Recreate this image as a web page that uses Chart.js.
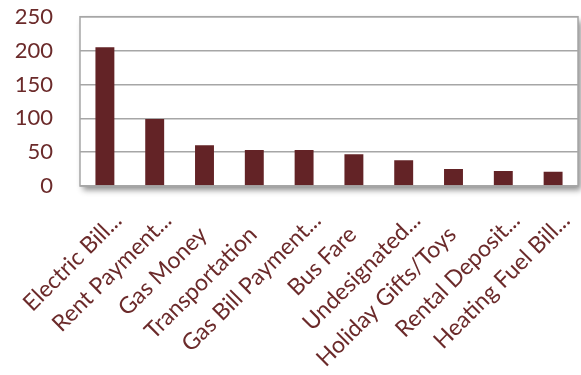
<!DOCTYPE html>
<html>
<head>
<meta charset="utf-8">
<script src="https://cdn.jsdelivr.net/npm/chart.js@4"></script>
<style>
  html, body { margin: 0; padding: 0; background: #fff; }
  #wrap { width: 581px; height: 375px; position: relative; }
</style>
</head>
<body>
<div id="wrap"><canvas id="c" width="581" height="375"></canvas></div>
<script>
// Assistance categories and amounts
const categories = [
  'Electric Bill...', 'Rent Payment...', 'Gas Money', 'Transportation',
  'Gas Bill Payment...', 'Bus Fare', 'Undesignated...', 'Holiday Gifts/Toys',
  'Rental Deposit...', 'Heating Fuel Bill...'
];
const amounts = [205, 99, 60, 53, 53, 47, 38, 25, 22, 21];
const yTicks = [0, 50, 100, 150, 200, 250];

const textColor = '#6b2a2a';
const barColor = '#632326';
const gridColor = '#a6a6a6';
const labelFont = '23px Lato';

// White plot panel with a soft drop shadow and grey frame
const panelShadow = {
  id: 'panelShadow',
  beforeDraw(chart) {
    const { ctx, chartArea: a } = chart;
    ctx.save();
    ctx.shadowColor = 'rgba(0,0,0,0.45)';
    ctx.shadowBlur = 6;
    ctx.shadowOffsetX = 3;
    ctx.shadowOffsetY = 4;
    ctx.fillStyle = '#fff';
    ctx.fillRect(a.left, a.top, a.right - a.left, a.bottom - a.top);
    ctx.restore();
  },
  afterDatasetsDraw(chart) {
    const { ctx, chartArea: a } = chart;
    ctx.save();
    ctx.strokeStyle = gridColor;
    ctx.lineWidth = 1.5;
    ctx.strokeRect(a.left, a.top, a.right - a.left, a.bottom - a.top);
    ctx.restore();
  }
};

// Category labels at -45°, text ending just past each tick;
// truncated names keep a little trailing room after the ellipsis
const slantedLabels = {
  id: 'slantedLabels',
  afterDraw(chart) {
    const { ctx } = chart;
    const xs = chart.scales.x;
    const base = chart.chartArea.bottom;
    ctx.save();
    ctx.font = labelFont;
    ctx.fillStyle = textColor;
    ctx.textAlign = 'right';
    ctx.textBaseline = 'alphabetic';
    categories.forEach((lab, i) => {
      const x = xs.getPixelForTick(i);
      const trail = lab.endsWith('...') ? 20 : 0;
      ctx.save();
      ctx.translate(x + 4, base + 50);
      ctx.rotate(-Math.PI / 4);
      ctx.fillText(lab, trail, 0);
      ctx.restore();
    });
    ctx.restore();
  }
};

new Chart(document.getElementById('c'), {
  type: 'bar',
  data: {
    labels: categories,
    datasets: [{
      data: amounts,
      backgroundColor: barColor,
      borderWidth: 0,
      categoryPercentage: 1,
      barPercentage: 0.38
    }]
  },
  options: {
    responsive: false,
    animation: false,
    layout: { padding: { top: 16.7, right: 3, left: 0, bottom: 189 } },
    plugins: { legend: { display: false }, tooltip: { enabled: false } },
    scales: {
      x: {
        grid: { display: false, drawTicks: false },
        border: { display: false },
        ticks: { display: false }
      },
      y: {
        min: 0,
        max: 250,
        afterBuildTicks(scale) { scale.ticks = yTicks.map(v => ({ value: v })); },
        grid: { color: gridColor, lineWidth: 1.5, drawTicks: false },
        border: { display: false },
        ticks: {
          color: textColor,
          font: { family: 'Lato', size: 22 },
          padding: 27,
          autoSkip: false
        },
        afterFit(scale) {
          scale.width = 80;
          scale.paddingTop = 13;
          scale.paddingBottom = 13;
        }
      }
    }
  },
  plugins: [panelShadow, slantedLabels]
});
</script>
</body>
</html>
